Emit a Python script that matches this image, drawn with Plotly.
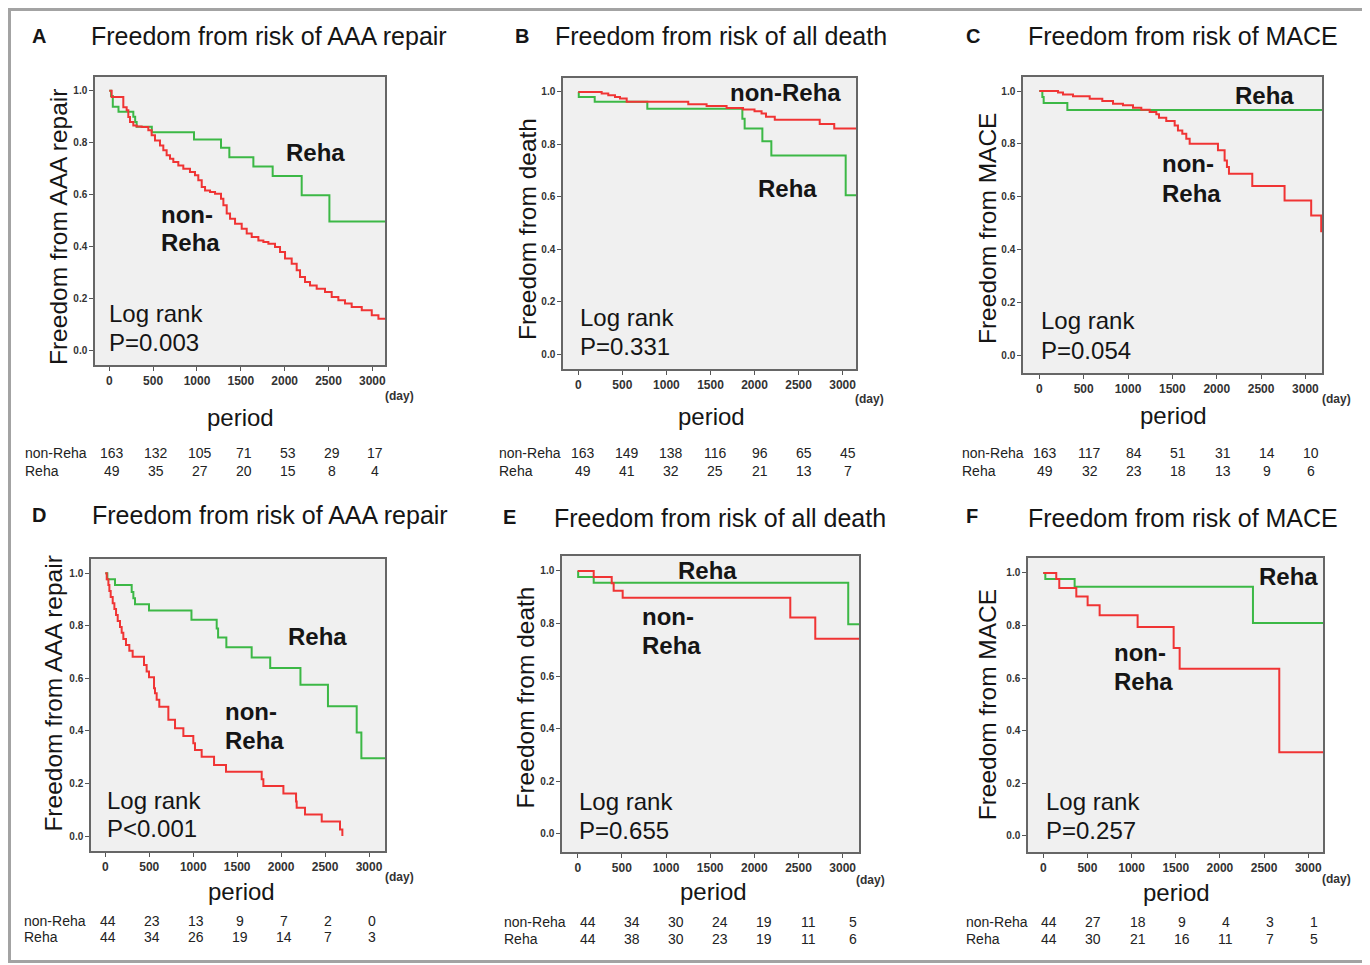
import plotly.graph_objects as go

W, H = 1370, 965
OFF = 8  # page body margin of the browser
FONT = "Liberation Sans, Arial, sans-serif"
RED = "#f03434"
GREEN = "#3cb846"

# ---------------- data (days, survival) ----------------
# Panel A  Freedom from risk of AAA repair (all patients)
a_non_t = [0, 27, 160, 198, 217, 236, 274, 312, 369, 445, 483, 521, 578, 616, 654, 692, 730, 787, 844, 920,
           977, 1015, 1054, 1092, 1149, 1206, 1274, 1301, 1339, 1377, 1434, 1510, 1567, 1624, 1700, 1757, 1814,
           1890, 1947, 2004, 2080, 2137, 2175, 2232, 2289, 2365, 2460, 2536, 2612, 2688, 2764, 2879, 2993, 3069, 3200]
a_non_s = [1.0, 0.976, 0.937, 0.925, 0.899, 0.88, 0.867, 0.863, 0.861, 0.848, 0.829, 0.809, 0.79, 0.771, 0.752,
           0.739, 0.726, 0.713, 0.70, 0.688, 0.675, 0.656, 0.63, 0.617, 0.611, 0.604, 0.585, 0.56, 0.528, 0.508,
           0.489, 0.47, 0.451, 0.438, 0.425, 0.419, 0.412, 0.40, 0.38, 0.355, 0.335, 0.31, 0.284, 0.265, 0.252,
           0.239, 0.227, 0.207, 0.195, 0.182, 0.169, 0.156, 0.137, 0.124, 0.124]
a_reh_t = [0, 20, 40, 105, 274, 295, 312, 485, 966, 1274, 1369, 1643, 1863, 2194, 2510, 3200]
a_reh_s = [1.0, 0.98, 0.939, 0.919, 0.90, 0.88, 0.862, 0.841, 0.813, 0.781, 0.745, 0.709, 0.672, 0.598, 0.498, 0.498]

# Panel B  Freedom from risk of all death (all patients)
b_non_t = [0, 265, 340, 416, 473, 549, 1248, 1456, 1683, 1870, 2000, 2080, 2130, 2230, 2740, 2905, 3200]
b_non_s = [1.0, 0.994, 0.987, 0.981, 0.975, 0.962, 0.953, 0.946, 0.939, 0.933, 0.926, 0.918, 0.905, 0.894, 0.878, 0.860, 0.860]
b_reh_t = [0, 5, 186, 783, 1862, 1888, 2089, 2191, 3035, 3200]
b_reh_s = [1.0, 0.981, 0.962, 0.936, 0.898, 0.86, 0.812, 0.757, 0.606, 0.606]

# Panel C  Freedom from risk of MACE (all patients)
c_non_t = [0, 211, 267, 380, 568, 710, 831, 943, 1056, 1150, 1244, 1319, 1349, 1431, 1526, 1563, 1612, 1657,
           1695, 2014, 2089, 2115, 2138, 2401, 2765, 3065, 3178]
c_non_s = [1.0, 0.994, 0.987, 0.98, 0.971, 0.962, 0.952, 0.946, 0.937, 0.929, 0.921, 0.912, 0.899, 0.887, 0.87,
           0.851, 0.839, 0.82, 0.801, 0.776, 0.738, 0.713, 0.688, 0.641, 0.587, 0.53, 0.467]
c_reh_t = [0, 34, 49, 316, 3200]
c_reh_s = [1.0, 0.977, 0.955, 0.928, 0.928]

# Panel D  Freedom from risk of AAA repair (matched)
d_non_t = [0, 16, 35, 46, 61, 84, 103, 122, 141, 167, 186, 205, 235, 273, 311, 440, 470, 497, 554, 565, 584,
           614, 717, 793, 888, 1001, 1020, 1096, 1237, 1373, 1779, 1798, 2026, 2170, 2177, 2272, 2462, 2670, 2697]
d_non_s = [1.0, 0.977, 0.955, 0.932, 0.909, 0.886, 0.864, 0.841, 0.818, 0.795, 0.773, 0.75, 0.727, 0.705, 0.682,
           0.651, 0.626, 0.604, 0.562, 0.543, 0.518, 0.492, 0.442, 0.41, 0.381, 0.353, 0.327, 0.302, 0.27, 0.245,
           0.216, 0.19, 0.162, 0.131, 0.108, 0.082, 0.055, 0.025, 0.0]
d_reh_t = [0, 23, 110, 300, 319, 338, 497, 980, 1267, 1283, 1377, 1665, 1876, 2220, 2533, 2860, 2913, 3200]
d_reh_s = [1.0, 0.977, 0.955, 0.928, 0.905, 0.882, 0.858, 0.823, 0.79, 0.755, 0.718, 0.679, 0.639, 0.576,
           0.494, 0.394, 0.296, 0.296]

# Panel E  Freedom from risk of all death (matched)
e_non_t = [0, 181, 385, 407, 509, 2407, 2690, 3200]
e_non_s = [1.0, 0.977, 0.953, 0.925, 0.898, 0.823, 0.742, 0.742]
e_reh_t = [0, 5, 181, 3063, 3200]
e_reh_s = [1.0, 0.977, 0.955, 0.797, 0.797]

# Panel F  Freedom from risk of MACE (matched)
f_non_t = [0, 147, 181, 374, 502, 638, 1068, 1476, 1544, 2672, 3200]
f_non_s = [1.0, 0.977, 0.943, 0.911, 0.877, 0.839, 0.795, 0.715, 0.636, 0.318, 0.318]
f_reh_t = [0, 23, 355, 2374, 3200]
f_reh_s = [1.0, 0.977, 0.948, 0.81, 0.81]

# Numbers at risk
risk_days = [0, 500, 1000, 1500, 2000, 2500, 3000]
a_risk_non = [163, 132, 105, 71, 53, 29, 17]
a_risk_reh = [49, 35, 27, 20, 15, 8, 4]
b_risk_non = [163, 149, 138, 116, 96, 65, 45]
b_risk_reh = [49, 41, 32, 25, 21, 13, 7]
c_risk_non = [163, 117, 84, 51, 31, 14, 10]
c_risk_reh = [49, 32, 23, 18, 13, 9, 6]
d_risk_non = [44, 23, 13, 9, 7, 2, 0]
d_risk_reh = [44, 34, 26, 19, 14, 7, 3]
e_risk_non = [44, 34, 30, 24, 19, 11, 5]
e_risk_reh = [44, 38, 30, 23, 19, 11, 6]
f_risk_non = [44, 27, 18, 9, 4, 3, 1]
f_risk_reh = [44, 30, 21, 16, 11, 7, 5]

x_ticks = [0, 500, 1000, 1500, 2000, 2500, 3000]
y_ticks = [0.0, 0.2, 0.4, 0.6, 0.8, 1.0]
y_tick_text = ["0.0", "0.2", "0.4", "0.6", "0.8", "1.0"]

# ---------------- layout description (pixel positions on the page) ----------------
panels = [
    dict(letter="A", title="Freedom from risk of AAA repair", ytitle="Freedom from AAA repair",
         box=(95, 385, 77, 365), xr=[-163, 3144], yr=[-0.054, 1.053],
         non=(a_non_t, a_non_s), reh=(a_reh_t, a_reh_s), risk=(a_risk_non, a_risk_reh),
         let_xy=(39.5, 36), title_xy=(90, 36), ytitle_xy=(59, 227), period_xy=(240, 417), day_xy=(400, 396),
         labels=[("Reha", 285, 153, True), ("non-", 160, 214, True), ("Reha", 160, 243, True),
                 ("Log rank", 108, 313, False), ("P=0.003", 108, 342, False)],
         risk_left=24, risk_rows=(453, 471), risk_shift=3),
    dict(letter="B", title="Freedom from risk of all death", ytitle="Freedom from death",
         box=(563, 856, 78, 369), xr=[-174, 3152], yr=[-0.057, 1.053],
         non=(b_non_t, b_non_s), reh=(b_reh_t, b_reh_s), risk=(b_risk_non, b_risk_reh),
         let_xy=(521.7, 36), title_xy=(554, 36), ytitle_xy=(528, 229), period_xy=(711.7, 416), day_xy=(869, 399),
         labels=[("non-Reha", 729, 93, True), ("Reha", 756.7, 188, True),
                 ("Log rank", 578.5, 317, False), ("P=0.331", 578.5, 346, False)],
         risk_left=498, risk_rows=(453, 471), risk_shift=5),
    dict(letter="C", title="Freedom from risk of MACE", ytitle="Freedom from MACE",
         box=(1023, 1322, 77, 373), xr=[-184, 3187], yr=[-0.065, 1.053],
         non=(c_non_t, c_non_s), reh=(c_reh_t, c_reh_s), risk=(c_risk_non, c_risk_reh),
         let_xy=(973, 36), title_xy=(1027, 36), ytitle_xy=(988, 229), period_xy=(1173, 415), day_xy=(1336.7, 399),
         labels=[("Reha", 1234, 95.7, True), ("non-", 1160.7, 164, True), ("Reha", 1160.7, 193, True),
                 ("Log rank", 1040, 320.7, False), ("P=0.054", 1040, 350, False)],
         risk_left=960.7, risk_rows=(453, 471), risk_shift=6),
    dict(letter="D", title="Freedom from risk of AAA repair", ytitle="Freedom from AAA repair",
         box=(91, 385, 559, 851), xr=[-163, 3182], yr=[-0.057, 1.054],
         non=(d_non_t, d_non_s), reh=(d_reh_t, d_reh_s), risk=(d_risk_non, d_risk_reh),
         let_xy=(39.3, 515), title_xy=(90.7, 515), ytitle_xy=(53.3, 693.3), period_xy=(241.7, 891.7),
         day_xy=(400, 876.7),
         labels=[("Reha", 286.7, 636, True), ("non-", 224, 711.7, True), ("Reha", 224, 740, True),
                 ("Log rank", 106, 800, False), ("P&lt;0.001", 106, 828.3, False)],
         risk_left=23.3, risk_rows=(920.7, 937.3), risk_shift=3),
    dict(letter="E", title="Freedom from risk of all death", ytitle="Freedom from death",
         box=(562, 859, 556, 852), xr=[-178, 3185], yr=[-0.07, 1.057],
         non=(e_non_t, e_non_s), reh=(e_reh_t, e_reh_s), risk=(e_risk_non, e_risk_reh),
         let_xy=(509.3, 516.7), title_xy=(553.3, 518.3), ytitle_xy=(525, 697.5), period_xy=(714, 891.7),
         day_xy=(870, 880),
         labels=[("Reha", 677.3, 570, True), ("non-", 640.7, 616, True), ("Reha", 640.7, 645, True),
                 ("Log rank", 577.5, 801.7, False), ("P=0.655", 577.5, 830.7, False)],
         risk_left=502.7, risk_rows=(922.3, 939.3), risk_shift=10),
    dict(letter="F", title="Freedom from risk of MACE", ytitle="Freedom from MACE",
         box=(1028, 1323, 558, 852), xr=[-173, 3167], yr=[-0.061, 1.057],
         non=(f_non_t, f_non_s), reh=(f_reh_t, f_reh_s), risk=(f_risk_non, f_risk_reh),
         let_xy=(972.3, 516), title_xy=(1027.3, 518.3), ytitle_xy=(987.3, 705), period_xy=(1176.7, 892.7),
         day_xy=(1336.7, 879.3),
         labels=[("Reha", 1258.3, 576, True), ("non-", 1113.3, 652.7, True), ("Reha", 1113.3, 681.7, True),
                 ("Log rank", 1044.5, 801.7, False), ("P=0.257", 1044.5, 830.7, False)],
         risk_left=965, risk_rows=(922.3, 939.3), risk_shift=6),
]


def PX(x):
    return (x - OFF) / W


def PY(y):
    return 1 - (y - OFF) / H


fig = go.Figure()
annotations = []
layout = {}


def text_ann(x, y, text, size, bold=False, xanchor="center", angle=0, color="#151515", xref="paper", xshift=0):
    annotations.append(dict(
        x=x if xref != "paper" else PX(x), y=PY(y), xref=xref, yref="paper", text=text, showarrow=False,
        xanchor=xanchor, yanchor="middle", textangle=angle, xshift=xshift, borderpad=0,
        font=dict(family=FONT, size=size, color=color, weight="bold" if bold else "normal")))


for i, p in enumerate(panels):
    n = "" if i == 0 else str(i + 1)
    xa, ya = "x" + n, "y" + n
    x0, x1, y0, y1 = p["box"]
    layout["xaxis" + n] = dict(
        domain=[PX(x0), PX(x1)], range=p["xr"], anchor=ya, tickmode="array", tickvals=x_ticks,
        ticks="outside", ticklen=4, tickwidth=1, tickcolor="#555", showgrid=False, zeroline=False,
        showline=True, mirror=True, linecolor="#666", linewidth=1.5,
        tickfont=dict(family=FONT, size=12, color="#333", weight="bold"), fixedrange=True)
    layout["yaxis" + n] = dict(
        domain=[PY(y1), PY(y0)], range=p["yr"], anchor=xa, tickmode="array", tickvals=y_ticks,
        ticktext=y_tick_text, ticks="outside", ticklen=4, tickwidth=1, tickcolor="#555",
        showgrid=False, zeroline=False, showline=True, mirror=True, linecolor="#666", linewidth=1.5,
        tickfont=dict(family=FONT, size=10, color="#333", weight="bold"), fixedrange=True)

    for (t, s), col, name in [(p["reh"], GREEN, "Reha"), (p["non"], RED, "non-Reha")]:
        fig.add_trace(go.Scatter(x=t, y=s, mode="lines", line=dict(color=col, width=2, shape="hv"),
                                 xaxis=xa, yaxis=ya, name=name, showlegend=False, hoverinfo="skip"))

    text_ann(*p["let_xy"], "<b>" + p["letter"] + "</b>", 20, bold=True)
    text_ann(*p["title_xy"], p["title"], 25, xanchor="left")
    text_ann(*p["ytitle_xy"], p["ytitle"], 24.5, angle=-90)
    text_ann(*p["period_xy"], "period", 24)
    text_ann(*p["day_xy"], "(day)", 12, bold=True, color="#333")
    for txt, lx, ly, b in p["labels"]:
        text_ann(lx, ly, txt, 24, bold=b, xanchor="left")

    r_non, r_reh = p["risk"]
    text_ann(p["risk_left"], p["risk_rows"][0], "non-Reha", 14, xanchor="left", color="#222")
    text_ann(p["risk_left"], p["risk_rows"][1], "Reha", 14, xanchor="left", color="#222")
    for d, v1, v2 in zip(risk_days, r_non, r_reh):
        text_ann(d, p["risk_rows"][0], str(v1), 14, xref=xa, xshift=p["risk_shift"], color="#222")
        text_ann(d, p["risk_rows"][1], str(v2), 14, xref=xa, xshift=p["risk_shift"], color="#222")

shapes = [dict(type="rect", xref="paper", yref="paper", x0=PX(9.5), x1=PX(1364.5), y0=PY(961.5), y1=PY(9.5),
               line=dict(color="#a3a3a3", width=3), fillcolor="rgba(0,0,0,0)", layer="below")]

fig.update_layout(
    width=W, height=H, margin=dict(l=0, r=0, t=0, b=0), paper_bgcolor="white", plot_bgcolor="#f0f0f0",
    showlegend=False, annotations=annotations, shapes=shapes, font=dict(family=FONT), **layout)

fig.write_html("out.html", config={"displayModeBar": False})
